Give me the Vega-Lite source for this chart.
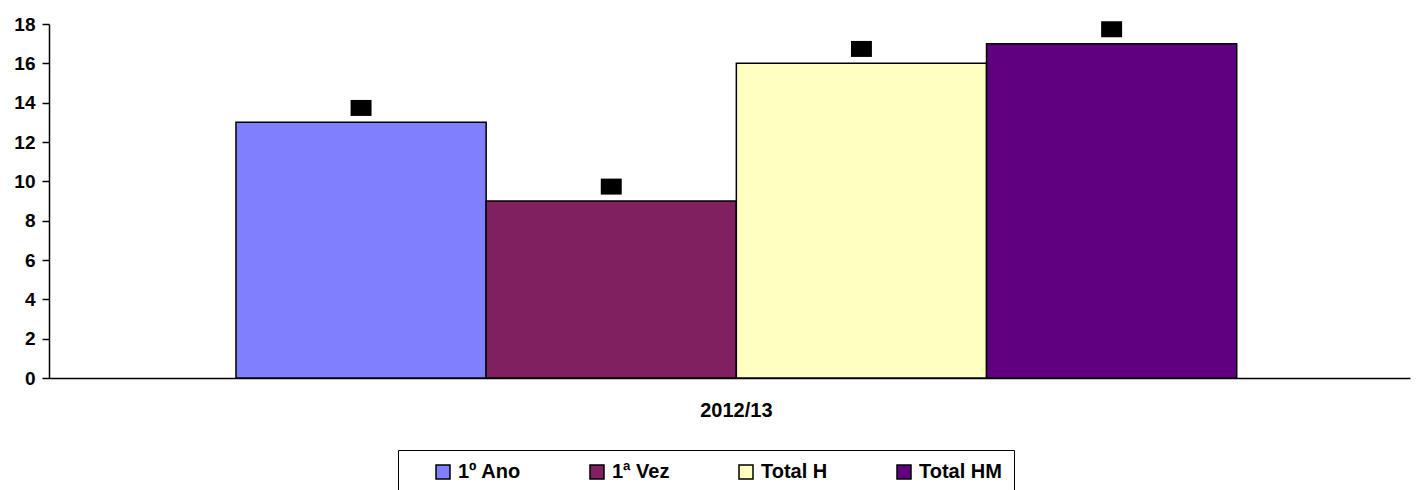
{
  "$schema": "https://vega.github.io/schema/vega-lite/v6.json",
  "autosize": {"type": "none"},
  "width": 1361,
  "height": 354,
  "padding": {"left": 49, "top": 24, "right": 6, "bottom": 112},
  "background": "white",
  "config": {"view": {"stroke": null}, "font": "Liberation Sans"},
  "data": {"values": [
    {"period": "2012/13", "series": "1º Ano", "value": 13},
    {"period": "2012/13", "series": "1ª Vez", "value": 9},
    {"period": "2012/13", "series": "Total H", "value": 16},
    {"period": "2012/13", "series": "Total HM", "value": 17}
  ]},
  "encoding": {
    "x": {
      "field": "period", "type": "nominal",
      "scale": {"paddingInner": 0, "paddingOuter": 0.18, "align": 0.519},
      "axis": {"title": null, "labelFont": "Liberation Sans", "labelFontWeight": "bold", "labelFontSize": 20, "labelColor": "black", "ticks": false, "tickSize": 0, "labelPadding": 22, "domainColor": "black", "domainWidth": 1.5, "labelAngle": 0}
    },
    "xOffset": {
      "field": "series", "type": "nominal",
      "sort": ["1º Ano", "1ª Vez", "Total H", "Total HM"],
      "scale": {"paddingInner": 0, "paddingOuter": 0}
    },
    "y": {
      "field": "value", "type": "quantitative",
      "scale": {"domain": [0, 18], "nice": false},
      "axis": {"title": null, "values": [0, 2, 4, 6, 8, 10, 12, 14, 16, 18], "labelFont": "Liberation Sans", "labelFontWeight": "bold", "labelFontSize": 19, "labelColor": "black", "tickColor": "black", "tickSize": 7, "tickWidth": 1.5, "domainColor": "black", "domainWidth": 1.5, "labelPadding": 7, "grid": false}
    }
  },
  "layer": [
    {
      "mark": {"type": "bar", "stroke": "black", "strokeWidth": 1.5},
      "encoding": {
        "color": {
          "field": "series", "type": "nominal",
          "scale": {"domain": ["1º Ano", "1ª Vez", "Total H", "Total HM"], "range": ["#8080FF", "#802060", "#FFFFC0", "#600080"]},
          "legend": {
            "title": "\u00a0", "titleOrient": "left", "titleFontSize": 1, "titlePadding": 23,
            "orient": "none", "legendX": 349, "legendY": 426, "direction": "horizontal",
            "strokeColor": "black", "fillColor": "white", "padding": 12,
            "symbolType": "square", "symbolSize": 196, "symbolStrokeColor": "black", "symbolStrokeWidth": 1.5,
            "labelFont": "Liberation Sans", "labelFontSize": 20, "labelFontWeight": "bold", "labelColor": "black",
            "labelOffset": 5, "columnPadding": 66, "labelLimit": 300
          }
        }
      }
    },
    {
      "mark": {"type": "point", "shape": "M-1.31,-2.8H1.31V-0.8H-1.31Z", "filled": true, "color": "black", "opacity": 1, "size": 256}
    },
    {
      "mark": {"type": "text", "dy": -15, "baseline": "middle", "fontWeight": "bold", "fontSize": 13, "color": "black"},
      "encoding": {"text": {"field": "value", "type": "quantitative"}}
    }
  ]
}
